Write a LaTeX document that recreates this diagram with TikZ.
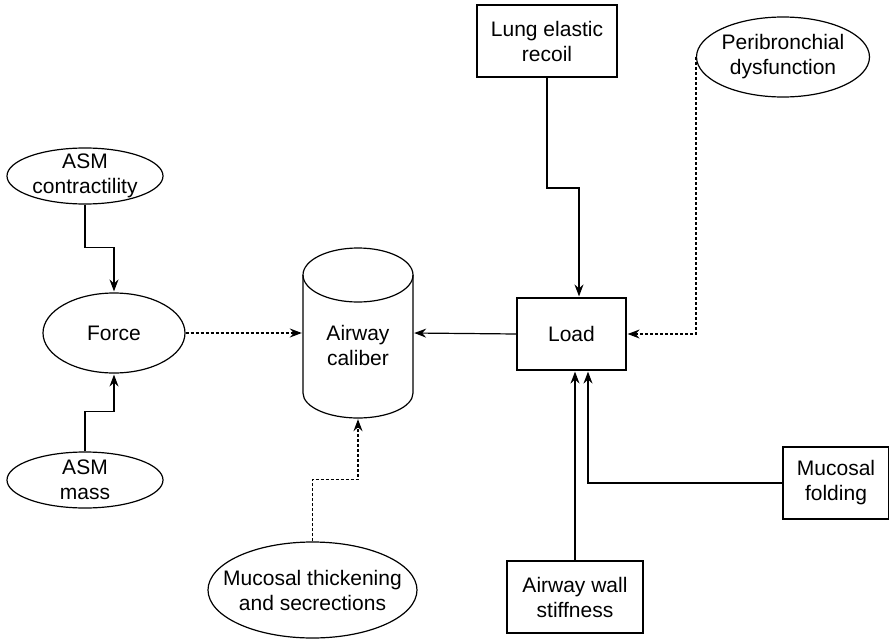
\documentclass[tikz,border=0pt]{standalone}
\usepackage{fontspec}
\setmainfont{Liberation Sans}
\usetikzlibrary{arrows.meta,shapes.geometric,calc}
\begin{document}
\begin{tikzpicture}[x=1pt,y=-1pt,
  every node/.style={font=\fontsize{21}{25}\selectfont, align=center},
  every label/.style={font=\fontsize{21}{25}\selectfont, align=center},
  ell/.style={draw, ellipse, inner sep=0pt, line width=1.2pt},
  box/.style={draw, rectangle, inner sep=0pt, line width=1.2pt},
  con/.style={line width=1.2pt, -{Stealth[length=12pt,width=9pt,inset=4pt]}, shorten >=1pt},
  dot/.style={con, dash pattern=on 3pt off 2pt}]
\useasboundingbox (0,0) rectangle (889,640);

% cylinder
\draw[line width=1.2pt] (358,275) ellipse [x radius=55, y radius=27];
\draw[line width=1.2pt] (303,275) -- (303,393) arc[start angle=180, end angle=0, x radius=55, y radius=25] -- (413,275);
\node[minimum width=110pt, minimum height=170pt, inner sep=0pt,
      label={[yshift=-12pt]center:{Airway\\caliber}}] (cal) at (358,333) {};

\node[ell, minimum width=156pt, minimum height=56pt, label={center:{ASM\\contractility}}] (asmc) at (85,176) {};
\node[ell, minimum width=142pt, minimum height=80pt, label={center:Force}] (force) at (114,333) {};
\node[ell, minimum width=156pt, minimum height=56pt, label={center:{ASM\\mass}}] (asmm) at (85,480) {};
\node[box, minimum width=140pt, minimum height=72pt] (lung) at (547,41) {Lung elastic\\recoil};
\node[ell, minimum width=173pt, minimum height=80pt, label={center:{Peribronchial\\dysfunction}}] (peri) at (783,57) {};
\node[box, minimum width=109pt, minimum height=72pt] (load) at (571.5,334) {Load};
\node[box, minimum width=136pt, minimum height=72pt] (aws) at (575,597) {Airway wall\\stiffness};
\node[box, minimum width=106pt, minimum height=72pt] (mf) at (836,483) {Mucosal\\folding};
\node[ell, minimum width=209pt, minimum height=96pt, label={center:{Mucosal thickening\\and secrections}}] (mt) at (312.5,590) {};

\coordinate (lungbend) at (579,188);

\draw[con] (asmc.south) -- ++(0,43) -| (force.north);
\draw[con] (asmm.north) -- ++(0,-40) -| (force.south);
\draw[dot] (force.east) -- (cal.west);
\draw[con] (load.west) -- (cal.east);
\draw[con] (lung.south) |- (lungbend) -- (lungbend |- load.north);
\draw[dot] (peri.west) |- (load.east);
\draw[con] (aws.north) -- (aws.north |- load.south);
\draw[con] (mf.west) -| ($(load.south)+(16.5,0)$);
\draw[dot] (mt.north) -- ++(0,-62) -| (cal.south);
\end{tikzpicture}
\end{document}
